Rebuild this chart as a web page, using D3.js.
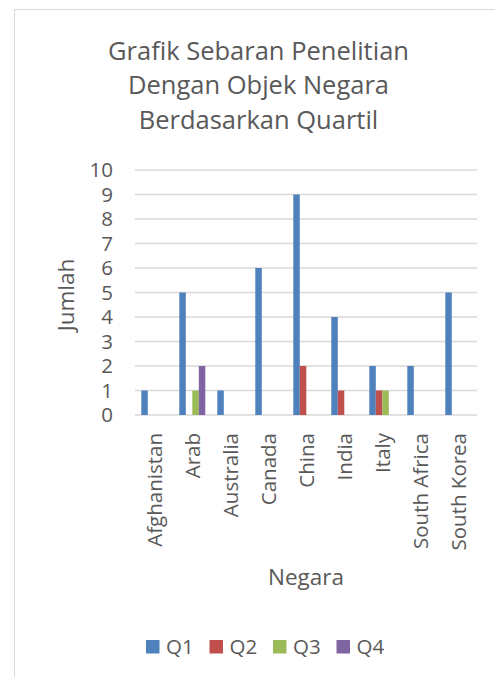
<!DOCTYPE html>
<html>
<head>
<meta charset="utf-8">
<script src="https://cdn.jsdelivr.net/npm/d3@7"></script>
<style>
  body { margin: 0; background: #fff; }
  text { font-family: "Open Sans", sans-serif; fill: #595959; font-variant-ligatures: none; }
</style>
</head>
<body>
<div id="chart"></div>
<script>
var countries = ['Afghanistan', 'Arab', 'Australia', 'Canada', 'China', 'India', 'Italy', 'South Africa', 'South Korea'];
var quartiles = ['Q1', 'Q2', 'Q3', 'Q4'];
var q1 = [1, 5, 1, 6, 9, 4, 2, 2, 5];
var q2 = [0, 0, 0, 0, 2, 1, 1, 0, 0];
var q3 = [0, 1, 0, 0, 0, 0, 1, 0, 0];
var q4 = [0, 2, 0, 0, 0, 0, 0, 0, 0];
var yTicks = [0, 1, 2, 3, 4, 5, 6, 7, 8, 9, 10];
var colors = ['#4F81BD', '#C0504D', '#9BBB59', '#8064A2'];

var W = 495, H = 677;
var plot = { left: 135, right: 477, top: 170, bottom: 415 };

var svg = d3.select('#chart').append('svg')
    .attr('width', W)
    .attr('height', H)

// chart frame
svg.append('rect')
    .attr('x', 14.5).attr('y', 9.5)
    .attr('width', 500).attr('height', 700)
    .attr('fill', 'none')
    .attr('stroke', '#D9D9D9')

// title
var titleLines = ['Grafik Sebaran Penelitian', 'Dengan Objek Negara', 'Berdasarkan Quartil'];
svg.append('text')
    .attr('text-anchor', 'middle')
    .style('font-size', '25.5px')
    .selectAll('tspan')
    .data(titleLines)
    .enter().append('tspan')
        .attr('x', 258.5)
        .attr('y', (d, i) => 59.5 + i * 34.7)
        .text(d => d)

var x = d3.scaleBand()
    .domain(countries)
    .range([plot.left, plot.right])

var xInner = d3.scaleBand()
    .domain(quartiles)
    .range([6.3, 32.3])

var y = d3.scaleLinear()
    .domain([0, 10])
    .range([plot.bottom, plot.top])

// gridlines
svg.append('g')
    .selectAll('line')
    .data(yTicks)
    .enter().append('line')
        .attr('x1', plot.left)
        .attr('x2', plot.right)
        .attr('y1', d => y(d))
        .attr('y2', d => y(d))
        .attr('stroke', '#D9D9D9')
        .attr('stroke-width', 1.3)

// y tick labels
svg.append('g')
    .selectAll('text')
    .data(yTicks)
    .enter().append('text')
        .attr('x', 113)
        .attr('y', d => y(d))
        .attr('dy', '0.36em')
        .attr('text-anchor', 'end')
        .style('font-size', '20.5px')
        .text(d => d)

// bars
var series = [q1, q2, q3, q4];
var rows = [];
countries.forEach((c, i) => {
    quartiles.forEach((q, j) => {
        if (series[j][i] > 0) rows.push({ country: c, q: q, value: series[j][i], color: colors[j] });
    });
});

svg.append('g')
    .selectAll('rect')
    .data(rows)
    .enter().append('rect')
        .attr('x', d => x(d.country) + xInner(d.q))
        .attr('y', d => y(d.value))
        .attr('width', xInner.bandwidth())
        .attr('height', d => y(0) - y(d.value))
        .attr('fill', d => d.color)

// x labels
svg.append('g')
    .selectAll('text')
    .data(countries)
    .enter().append('text')
        .attr('transform', d => 'translate(' + (x(d) + x.bandwidth() / 2 + 1) + ',433)rotate(-90)')
        .attr('dy', '0.36em')
        .attr('text-anchor', 'end')
        .style('font-size', '20.5px')
        .text(d => d)

// axis titles
svg.append('text')
    .attr('transform', 'translate(74,295)rotate(-90)')
    .attr('text-anchor', 'middle')
    .style('font-size', '22.5px')
    .text('Jumlah')

svg.append('text')
    .attr('x', 306)
    .attr('y', 585)
    .attr('text-anchor', 'middle')
    .style('font-size', '22.5px')
    .text('Negara')

// legend
var legend = svg.append('g')
    .selectAll('g')
    .data(quartiles)
    .enter().append('g')
        .attr('transform', (d, i) => 'translate(' + (146 + i * 63.5) + ',640)')
legend.append('rect')
    .attr('width', 13.5)
    .attr('height', 13.5)
    .attr('fill', (d, i) => colors[i])
legend.append('text')
    .attr('x', 20)
    .attr('y', 13.5)
    .style('font-size', '20.5px')
    .text(d => d)
</script>
</body>
</html>
